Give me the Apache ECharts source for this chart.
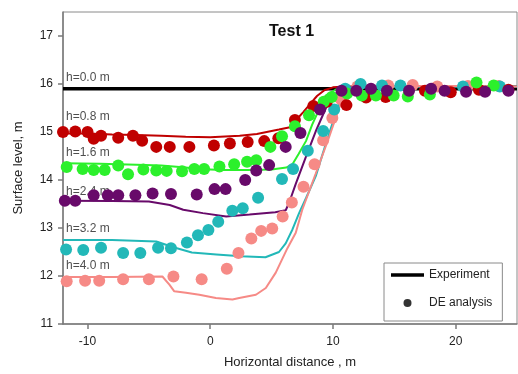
<!DOCTYPE html>
<html>
<head>
<meta charset="utf-8">
<script src="https://cdn.jsdelivr.net/npm/echarts@6/dist/echarts.min.js"></script>
<style>
html,body{margin:0;padding:0;background:#fff;}
#chart{width:518px;height:374px;}
</style>
</head>
<body>
<div id="chart"></div>
<script>
// ---------- data ----------
const xTicks = [-10, 0, 10, 20];
const yTicks = [11, 12, 13, 14, 15, 16, 17];

// Experiment profiles (lines)
const exp0X = [-12, 25];
const exp0Y = [15.9, 15.9];

const exp08X = [-12,-10,-8,-6,-4,-2,0,2.4,3.8,5.6,6.5,7.0,7.6,8.2,8.7,9.3,10,11,15,20,25];
const exp08Y = [14.97,14.97,14.95,14.94,14.92,14.9,14.89,14.92,14.96,15.05,15.1,15.25,15.42,15.6,15.75,15.87,15.93,15.95,15.95,15.95,15.95];

const exp16X = [-12,-9,-6,-4,-2,-1,1,3,5,6.2,6.7,7.2,7.8,8.3,8.9,9.4,10.2,11,15,20,25];
const exp16Y = [14.35,14.34,14.32,14.3,14.26,14.23,14.21,14.21,14.22,14.26,14.33,14.54,14.81,15.15,15.49,15.76,15.88,15.94,15.95,15.95,15.95];

const exp24X = [-12,-8,-5,-3.3,-2.2,-0.6,1.3,3.2,5.3,6.15,6.42,6.97,7.78,8.59,9.41,10.22,11,15,20,25];
const exp24Y = [13.57,13.56,13.55,13.48,13.38,13.31,13.24,13.28,13.33,13.37,13.52,13.92,14.47,15.01,15.49,15.8,15.93,15.95,15.95,15.95];

const exp32X = [-12,-8,-4.4,-3,-1.5,0.5,2.5,4.5,5.6,6.15,6.7,7.24,7.8,8.6,9.4,10.1,10.6,11.2,12,15,20,25];
const exp32Y = [12.75,12.75,12.72,12.6,12.49,12.45,12.41,12.39,12.5,12.68,12.97,13.31,13.62,14.08,14.74,15.29,15.69,15.9,15.94,15.95,15.95,15.95];

const exp40X = [-12,-8,-3.9,-3.33,-2.93,-1.98,-0.89,0.46,1.81,2.36,3.72,4.53,5.34,6.29,6.97,7.5,8.59,9.67,10.49,11.03,12,15,20,25];
const exp40Y = [11.98,11.98,11.99,11.82,11.68,11.65,11.61,11.54,11.51,11.54,11.61,11.75,12.07,12.58,12.9,13.38,14.13,14.88,15.49,15.83,15.95,15.96,15.96,15.95];

// DE analysis (dots)
const de08X = [-12,-11.0,-10.0,-9.5,-8.9,-7.5,-6.3,-5.55,-4.4,-3.3,-1.7,0.3,1.6,3.05,4.4,5.55,6.9,8.4,9.5,11.1,12.7,14.3,17.5,19.6,21.9,24.3];
const de08Y = [15.0,15.01,15.0,14.86,14.92,14.88,14.92,14.82,14.69,14.69,14.69,14.72,14.76,14.79,14.81,14.87,15.25,15.54,15.63,15.56,15.72,15.73,15.86,15.83,15.88,15.88];

const de16X = [-11.7,-10.4,-9.5,-8.6,-7.5,-6.7,-5.45,-4.4,-3.55,-2.3,-1.3,-0.5,0.75,1.95,3.0,3.75,4.9,5.85,6.9,8.05,9.25,9.9,11.15,12.35,13.5,14.95,16.1,17.9,21.7,23.1];
const de16Y = [14.27,14.23,14.21,14.21,14.3,14.12,14.22,14.2,14.19,14.18,14.23,14.23,14.28,14.33,14.38,14.41,14.69,14.91,15.12,15.35,15.63,15.73,15.8,15.76,15.76,15.76,15.74,15.78,16.03,15.97];

const de24X = [-11.85,-11.0,-9.5,-8.35,-7.5,-6.1,-4.7,-3.2,-1.1,0.35,1.25,2.85,3.75,4.8,6.15,7.35,8.95,10.7,11.9,13.1,14.4,16.2,18.0,19.1,20.85,22.4,24.3];
const de24Y = [13.57,13.57,13.68,13.68,13.68,13.68,13.72,13.71,13.7,13.81,13.81,14.0,14.2,14.31,14.69,14.98,15.47,15.86,15.86,15.9,15.86,15.86,15.9,15.86,15.84,15.84,15.86];

const de32X = [-11.75,-10.35,-8.9,-7.1,-5.7,-4.25,-3.2,-1.9,-1.0,-0.15,0.65,1.8,2.65,3.9,5.85,6.75,7.95,9.2,10.1,11.0,12.25,14.0,15.5,20.6,23.6];
const de32Y = [12.55,12.54,12.59,12.48,12.48,12.59,12.58,12.7,12.85,12.96,13.13,13.36,13.41,13.63,14.02,14.23,14.61,15.02,15.47,15.9,16.0,15.97,15.97,15.95,15.95];

const de40X = [-11.7,-10.2,-9.05,-7.1,-5.0,-3.0,-0.7,1.35,2.3,3.35,4.15,5.05,5.9,6.65,7.6,8.5,9.2,9.95,10.65,12.0,14.5,16.5,18.5,21.0,23.5];
const de40Y = [11.89,11.9,11.9,11.93,11.93,11.99,11.93,12.15,12.48,12.78,12.94,12.99,13.24,13.53,13.86,14.33,14.83,15.29,15.68,15.95,15.97,15.98,15.95,15.96,15.96];

// Annotations
const annoText = ['h=0.0 m','h=0.8 m','h=1.6 m','h=2.4 m','h=3.2 m','h=4.0 m'];
const annoY = [16.14, 15.31, 14.57, 13.76, 12.99, 12.22];

// ---------- chart ----------
const zip = (xs, ys) => xs.map((x, i) => [x, ys[i]]);
const FONT = '"Liberation Sans", Arial, sans-serif';
const C = {
  red: '#c00000', green: '#2cf02c', purple: '#680a6a', cyan: '#22b8b8', salmon: '#f68a86'
};

function lineS(name, xs, ys, color, width) {
  return {
    name: name, type: 'line', data: zip(xs, ys), symbol: 'none', z: 2,
    lineStyle: { color: color, width: width }, itemStyle: { color: color },
    silent: true, animation: false
  };
}
function dotS(name, xs, ys, color) {
  return {
    name: name, type: 'scatter', data: zip(xs, ys), symbol: 'circle', symbolSize: 12,
    itemStyle: { color: color, opacity: 1 }, z: 3, clip: false, silent: true, animation: false
  };
}

const chart = echarts.init(document.getElementById('chart'), null, { renderer: 'canvas' });
chart.setOption({
  backgroundColor: '#fff',
  animation: false,
  textStyle: { fontFamily: FONT },
  title: {
    text: 'Test 1', left: 269, top: 24, padding: 0,
    textStyle: { fontFamily: FONT, fontSize: 16, fontWeight: 'bold', color: '#111' }
  },
  grid: {
    left: 63, right: 1, top: 12, bottom: 44, show: true,
    borderColor: '#8a8a8a', borderWidth: 1, backgroundColor: 'transparent'
  },
  legend: {
    orient: 'vertical', left: 384, top: 263,
    borderColor: '#8a8a8a', borderWidth: 1, borderRadius: 0,
    padding: [6, 10, 12, 7], itemWidth: 33, itemHeight: 8, itemGap: 16, itemTextGap: 8,
    symbolKeepAspect: true,
    textStyle: { fontFamily: FONT, fontSize: 12, color: '#222' },
    data: [
      { name: 'Experiment', icon: 'path://M0,0 L33,0 L33,3.5 L0,3.5 Z', itemStyle: { color: '#000' } },
      { name: 'DE analysis', icon: 'circle' }
    ],
    selectedMode: false
  },
  xAxis: {
    type: 'value', min: -12, max: 25,
    name: 'Horizontal distance , m', nameLocation: 'middle', nameGap: 32,
    nameTextStyle: { fontFamily: FONT, fontSize: 13, color: '#222' },
    axisLine: { show: true, onZero: false, lineStyle: { color: '#7a7a7a', width: 1.5 } },
    axisTick: { show: true, inside: false, length: 5, customValues: xTicks, lineStyle: { color: '#7a7a7a', width: 1.5 } },
    axisLabel: { customValues: xTicks, margin: 12, fontSize: 12, color: '#222', fontFamily: FONT },
    splitLine: { show: false }
  },
  yAxis: {
    type: 'value', min: 11, max: 17.5,
    name: 'Surface level, m', nameLocation: 'middle', nameGap: 38, nameRotate: 90,
    nameTextStyle: { fontFamily: FONT, fontSize: 13, color: '#222' },
    axisLine: { show: true, onZero: false, lineStyle: { color: '#7a7a7a', width: 1.5 } },
    axisTick: { show: true, inside: false, length: 5, customValues: yTicks, lineStyle: { color: '#7a7a7a', width: 1.5 } },
    axisLabel: { customValues: yTicks, margin: 10, fontSize: 12, color: '#222', fontFamily: FONT },
    splitLine: { show: false }
  },
  series: [
    {
      name: 'annotations', type: 'scatter', symbolSize: 0, z: 1, silent: true, clip: false,
      data: annoY.map((y, i) => ({ value: [-12, y], name: annoText[i] })),
      label: {
        show: true, position: 'right', distance: 3, formatter: p => p.name,
        fontFamily: FONT, fontSize: 12, color: '#222'
      }
    },
    lineS('Experiment', exp0X, exp0Y, '#000', 3.5),
    lineS('exp 0.8', exp08X, exp08Y, C.red, 2),
    lineS('exp 1.6', exp16X, exp16Y, C.green, 2),
    lineS('exp 2.4', exp24X, exp24Y, C.purple, 2),
    lineS('exp 3.2', exp32X, exp32Y, C.cyan, 2),
    lineS('exp 4.0', exp40X, exp40Y, C.salmon, 2),
    dotS('de 4.0', de40X, de40Y, C.salmon),
    dotS('de 3.2', de32X, de32Y, C.cyan),
    dotS('de 0.8', de08X, de08Y, C.red),
    dotS('de 1.6', de16X, de16Y, C.green),
    dotS('de 2.4', de24X, de24Y, C.purple),
    { name: 'DE analysis', type: 'scatter', data: [], itemStyle: { color: '#000' }, symbol: 'circle' }
  ]
});
</script>
</body>
</html>
